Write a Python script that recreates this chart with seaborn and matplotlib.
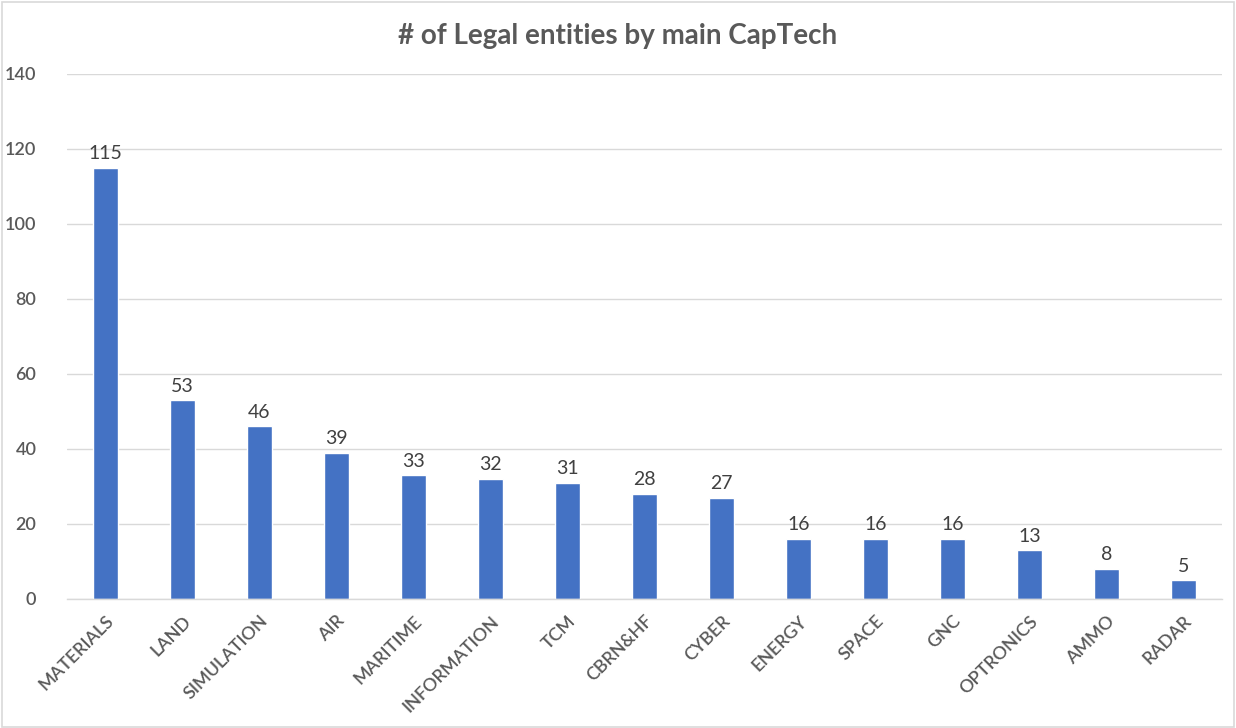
import matplotlib
matplotlib.use("Agg")
import matplotlib.pyplot as plt
import seaborn as sns
import pandas as pd
from matplotlib.patches import Rectangle

captechs = ["MATERIALS", "LAND", "SIMULATION", "AIR", "MARITIME", "INFORMATION",
            "TCM", "CBRN&HF", "CYBER", "ENERGY", "SPACE", "GNC", "OPTRONICS",
            "AMMO", "RADAR"]
entities = [115, 53, 46, 39, 33, 32, 31, 28, 27, 16, 16, 16, 13, 8, 5]
y_ticks = [0, 20, 40, 60, 80, 100, 120, 140]

sns.set_theme(style="white")
plt.rcParams["font.family"] = ["Lato", "DejaVu Sans"]

df = pd.DataFrame({"captech": captechs, "entities": entities})

fig = plt.figure(figsize=(12.36, 7.28), dpi=100)
ax = fig.add_axes([0.0542, 0.1772, 0.9345, 0.7212])

sns.barplot(data=df, x="captech", y="entities", color="#4472C4",
            width=0.33, saturation=1, ax=ax)

ax.set_xlim(-0.5, len(captechs) - 0.5)
ax.set_ylim(0, 140)
ax.set_yticks(y_ticks)
ax.yaxis.grid(True, color="#D9D9D9", linewidth=1)
ax.set_axisbelow(True)
for side in ["top", "right", "left"]:
    ax.spines[side].set_visible(False)
ax.spines["bottom"].set_color("#D9D9D9")
ax.spines["bottom"].set_linewidth(1)

ax.set_xlabel("")
ax.set_ylabel("")
ax.tick_params(axis="both", length=0, colors="#595959", labelsize=13)
ax.tick_params(axis="y", pad=22)
ax.set_xticks(range(len(captechs)))
ax.set_xticklabels(captechs, rotation=45, ha="right", rotation_mode="anchor",
                   fontweight="semibold")
for lbl in ax.get_yticklabels():
    lbl.set_fontweight("semibold")
ax.tick_params(axis="x", pad=10)

for container in ax.containers:
    ax.bar_label(container, labels=[str(v) for v in entities], padding=4,
                 fontsize=14, color="#404040")

fig.text(0.5, 0.95, "# of Legal entities by main CapTech", ha="center",
         va="center", fontsize=20, fontweight="bold", color="#595959")

fig.patches.append(Rectangle((0.002, 0.002), 0.996, 0.995, transform=fig.transFigure,
                             fill=False, edgecolor="#D9D9D9", linewidth=1.2))

fig.savefig("out.png", dpi=100, facecolor="white")
